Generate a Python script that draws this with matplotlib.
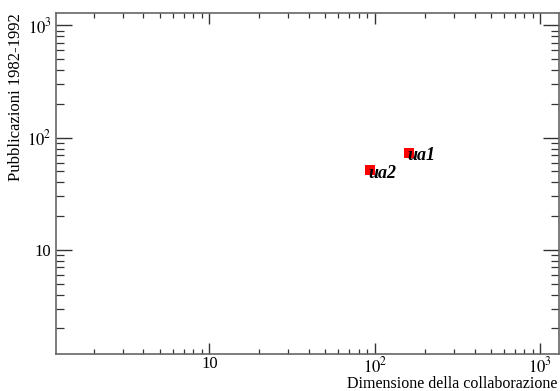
import matplotlib
matplotlib.use("Agg")
import matplotlib.pyplot as plt
from matplotlib.ticker import LogLocator, FixedLocator, FixedFormatter, NullFormatter

plt.rcParams["font.family"] = ["Liberation Serif", "DejaVu Serif"]
plt.rcParams["mathtext.fontset"] = "stix"

# data
names = ["ua1", "ua2"]
collab_size = [160, 93]
publications = [73, 51]

fig = plt.figure(figsize=(5.6, 3.91), dpi=100)
ax = fig.add_axes([0.0995, 0.0946, 0.8993, 0.8729])

ax.plot(collab_size, publications, "s", color="#ff0000", markersize=7.5,
        markeredgewidth=0, zorder=3)
for n, x, y in zip(names, collab_size, publications):
    ax.annotate(n, (x, y), xytext=(-1, -2), textcoords="offset points",
                ha="left", va="center", fontsize=13, fontweight="bold",
                fontstyle="italic", zorder=4)

ax.set_xscale("log")
ax.set_yscale("log")
ax.set_xlim(1.18, 1300)
ax.set_ylim(1.18, 1300)

majors = [10, 100, 1000]
labels = ["10", r"$10^2$", r"$10^3$"]
for axis in (ax.xaxis, ax.yaxis):
    axis.set_major_locator(FixedLocator(majors))
    axis.set_major_formatter(FixedFormatter(labels))
    axis.set_minor_locator(LogLocator(base=10, subs=range(2, 10), numticks=20))
    axis.set_minor_formatter(NullFormatter())

ax.tick_params(axis="x", which="major", direction="in", length=7.7, width=1.0,
               top=True, labelsize=12, pad=1.5, color="#333333")
ax.tick_params(axis="x", which="minor", direction="in", length=3.6, width=0.9,
               top=True, color="#333333")
ax.tick_params(axis="y", which="major", direction="in", length=11.5, width=1.0,
               right=True, labelsize=12, pad=3, color="#333333")
ax.tick_params(axis="y", which="minor", direction="in", length=5.6, width=0.9,
               right=True, color="#333333")

for s in ax.spines.values():
    s.set_color("#666666")
    s.set_linewidth(1.2)

fig.text(557 / 560, 1 - 387.5 / 391, "Dimensione della collaborazione",
         ha="right", va="baseline", fontsize=11.5)
fig.text(16 / 560, 1 - 13 / 391, "Pubblicazioni 1982-1992", rotation=90,
         ha="center", va="top", fontsize=12)

fig.savefig("out.png", dpi=100)
